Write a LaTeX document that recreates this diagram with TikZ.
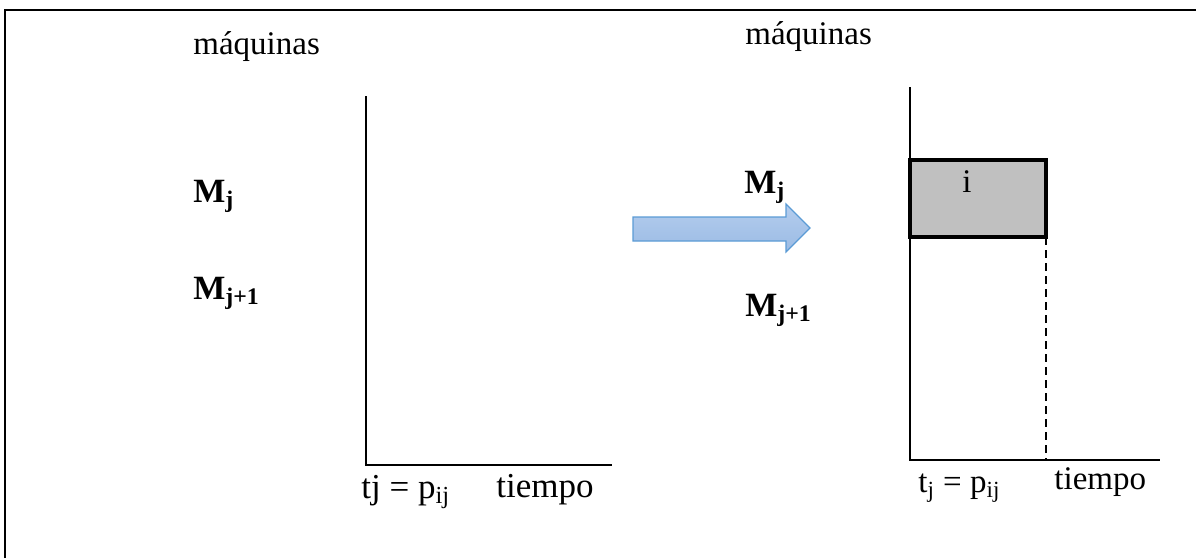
\documentclass[tikz,border=0pt]{standalone}
\usepackage{fontspec}
\setmainfont{Liberation Serif}
\begin{document}
\begin{tikzpicture}[x=0.5pt,y=-0.5pt,
  frame/.style={line width=1pt,black},
  axis/.style={line width=1.2pt,black},
  jobbox/.style={line width=1.6pt,draw=black,fill={rgb,255:red,192;green,192;blue,192}},
  guide/.style={line width=1.4pt,dash pattern=on 4pt off 2.5pt},
  txt/.style={inner sep=0pt,anchor=base west,font=\fontsize{16.5}{19}\selectfont},
  txtL/.style={inner sep=0pt,anchor=base west,font=\fontsize{17.5}{20}\selectfont},
  mach/.style={inner sep=0pt,anchor=base west,font=\fontsize{17}{20}\selectfont\bfseries},
  bigarrow/.style={draw={rgb,255:red,91;green,155;blue,213},line width=0.6pt,
    top color={rgb,255:red,180;green,205;blue,238},bottom color={rgb,255:red,155;green,187;blue,228}}
]
\useasboundingbox (0,0) rectangle (1196,558);
% frame
\coordinate (FB) at (5,558);
\coordinate (FC) at (5,10);
\coordinate (FR) at (1196,10);
\draw[frame] (FB) -- (FC) -- (FR);

% left axes
\coordinate (LT) at (366,96);
\coordinate (LO) at (366,465);
\coordinate (LE) at (612,465);
\draw[axis] (LT) -- (LO) -- (LE);

% right axes
\coordinate (RT) at (910,87);
\coordinate (RO) at (910,460);
\coordinate (RE) at (1160,460);
\draw[axis] (RT) -- (RO) -- (RE);

% job box
\coordinate (B1) at (910,160);
\coordinate (B2) at (1046,237);
\coordinate (D2) at (1046,460);
\draw[guide] (B2) -- (D2);
\draw[jobbox] (B1) rectangle (B2);
\node[txt] (ilabel) at (962,192) {i};

% arrow
\draw[bigarrow] (633,217) -- (786,217) -- (786,204) -- (810,228) -- (786,252) -- (786,241) -- (633,241) -- cycle;

% left labels
\node[txt] (maqL) at (193,54) {máquinas};
\node[mach] (MjL) at (193,202) {M\textsubscript{j}};
\node[mach] (Mj1L) at (193,299) {M\textsubscript{j+1}};
\node[txtL] (tjL) at (361,498) {tj = p\textsubscript{ij}};
\node[txtL] (tiL) at (496,497) {tiempo};

% right labels
\node[txt] (maqR) at (745,44) {máquinas};
\node[mach] (MjR) at (744,193) {M\textsubscript{j}};
\node[mach] (Mj1R) at (745,316) {M\textsubscript{j+1}};
\node[txt] (tjR) at (918,492) {t\textsubscript{j} = p\textsubscript{ij}};
\node[txt] (tiR) at (1054,489) {tiempo};
\end{tikzpicture}
\end{document}
